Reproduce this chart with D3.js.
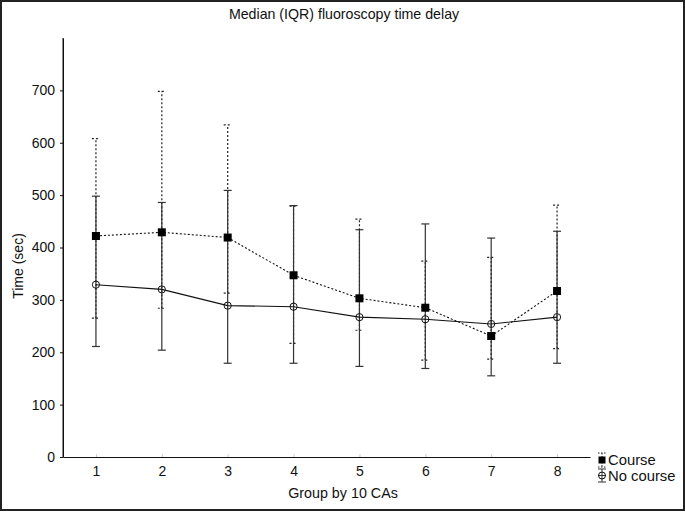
<!DOCTYPE html>
<html><head><meta charset="utf-8">
<script src="https://cdn.jsdelivr.net/npm/d3@7"></script>
<style>body{margin:0;background:#fff}svg{display:block}text{font-family:"Liberation Sans",Arial,sans-serif;fill:#111}</style>
</head><body><svg id="c" width="685" height="512"></svg>
<script>
const groups = [1,2,3,4,5,6,7,8];
const courseMedian = [422, 429, 419, 347, 303, 285, 231, 317];
const courseQ1     = [265, 284, 313, 217, 242, 185, 187, 207];
const courseQ3     = [608, 698, 634, 479, 454, 374, 381, 481];
const noCourseMedian = [329, 320, 289, 287, 267, 263, 254, 267];
const noCourseQ1     = [211, 204, 179, 179, 173, 169, 155, 179];
const noCourseQ3     = [498, 486, 509, 480, 434, 445, 418, 431];
const yTicks = [0,100,200,300,400,500,600,700];
const title = "Median (IQR) fluoroscopy time delay";
const xLabel = "Group by 10 CAs";
const yLabel = "Time (sec)";
const legendLabels = ["Course","No course"];

const svg = d3.select("#c");
svg.append("rect").attr("x",1).attr("y",1).attr("width",683).attr("height",509)
  .attr("fill","#fff").attr("stroke","#222").attr("stroke-width",2);

const x = d3.scaleLinear().domain([0.5,8.5]).range([63,590]);
const y = d3.scaleLinear().domain([0,800]).range([457,38]);

// axes
const yAx = svg.append("g").attr("transform","translate(63,0)")
  .call(d3.axisLeft(y).tickValues(yTicks).tickSize(3).tickSizeOuter(0).tickPadding(5));
yAx.select(".domain").attr("stroke","#111");
yAx.selectAll("line").attr("stroke","#111");
yAx.selectAll("text").style("font-size","14px").style("font-family","Liberation Sans, Arial, sans-serif").attr("fill","#111");
svg.append("line").attr("x1",63).attr("x2",63).attr("y1",38).attr("y2",457).attr("stroke","#111");

const xAx = svg.append("g").attr("transform","translate(0,457)")
  .call(d3.axisBottom(x).tickValues(groups).tickSize(-3).tickSizeOuter(0).tickPadding(9).tickFormat(d3.format("d")));
xAx.select(".domain").attr("stroke","#111");
xAx.selectAll("line").attr("stroke","#ccc");
xAx.selectAll("text").style("font-size","14px").style("font-family","Liberation Sans, Arial, sans-serif").attr("fill","#111");

// title & labels
svg.append("text").attr("x",344).attr("y",19).attr("text-anchor","middle").style("font-size","14.2px").text(title);
svg.append("text").attr("x",343).attr("y",498).attr("text-anchor","middle").style("font-size","14.3px").text(xLabel);
svg.append("text").attr("transform","translate(23,266) rotate(-90)").attr("text-anchor","middle").style("font-size","14px").text(yLabel);

const capW = 4;
function errBars(q1,q3,dashed){
  const g = svg.append("g").attr("stroke", dashed ? "#222" : "#333").attr("stroke-width",1.2).attr("fill","none");
  if (dashed) g.attr("stroke-dasharray","2,2");
  groups.forEach((gr,i)=>{
    g.append("line").attr("x1",x(gr)).attr("x2",x(gr)).attr("y1",y(q1[i])).attr("y2",y(q3[i]));
    [q1[i],q3[i]].forEach(v=>g.append("line").attr("x1",x(gr)-capW).attr("x2",x(gr)+capW).attr("y1",y(v)).attr("y2",y(v)));
  });
}
errBars(courseQ1, courseQ3, true);
errBars(noCourseQ1, noCourseQ3, false);

const line = d3.line().x((d,i)=>x(groups[i])).y(d=>y(d));
svg.append("path").datum(courseMedian).attr("d",line).attr("fill","none").attr("stroke","#111").attr("stroke-width",1.1).attr("stroke-dasharray","2,2");
svg.append("path").datum(noCourseMedian).attr("d",line).attr("fill","none").attr("stroke","#111").attr("stroke-width",1.1);

svg.append("g").selectAll("rect").data(courseMedian).join("rect")
  .attr("x",(d,i)=>x(groups[i])-4).attr("y",d=>y(d)-4).attr("width",8).attr("height",8).attr("fill","#000");
svg.append("g").selectAll("circle").data(noCourseMedian).join("circle")
  .attr("cx",(d,i)=>x(groups[i])).attr("cy",d=>y(d)).attr("r",3.6).attr("fill","none").attr("stroke","#111").attr("stroke-width",1);

// legend
const lg = svg.append("g");
const lx = 602;
lg.append("line").attr("x1",lx).attr("x2",lx).attr("y1",453).attr("y2",467).attr("stroke","#222").attr("stroke-dasharray","1.5,1.5");
[453,467].forEach(v=>lg.append("line").attr("x1",lx-4).attr("x2",lx+4).attr("y1",v).attr("y2",v).attr("stroke","#222").attr("stroke-dasharray","1.5,1.5"));
lg.append("rect").attr("x",lx-3.5).attr("y",456.5).attr("width",7).attr("height",7).attr("fill","#000");
lg.append("text").attr("x",608).attr("y",465).style("font-size","14.8px").text(legendLabels[0]);
lg.append("line").attr("x1",lx).attr("x2",lx).attr("y1",469).attr("y2",482).attr("stroke","#333");
[469,482].forEach(v=>lg.append("line").attr("x1",lx-4).attr("x2",lx+4).attr("y1",v).attr("y2",v).attr("stroke","#333"));
lg.append("line").attr("x1",lx-4).attr("x2",lx+4).attr("y1",475.5).attr("y2",475.5).attr("stroke","#333");
lg.append("circle").attr("cx",lx).attr("cy",475.5).attr("r",3.5).attr("fill","none").attr("stroke","#111");
lg.append("text").attr("x",608).attr("y",481).style("font-size","14.8px").text(legendLabels[1]);
</script></body></html>
